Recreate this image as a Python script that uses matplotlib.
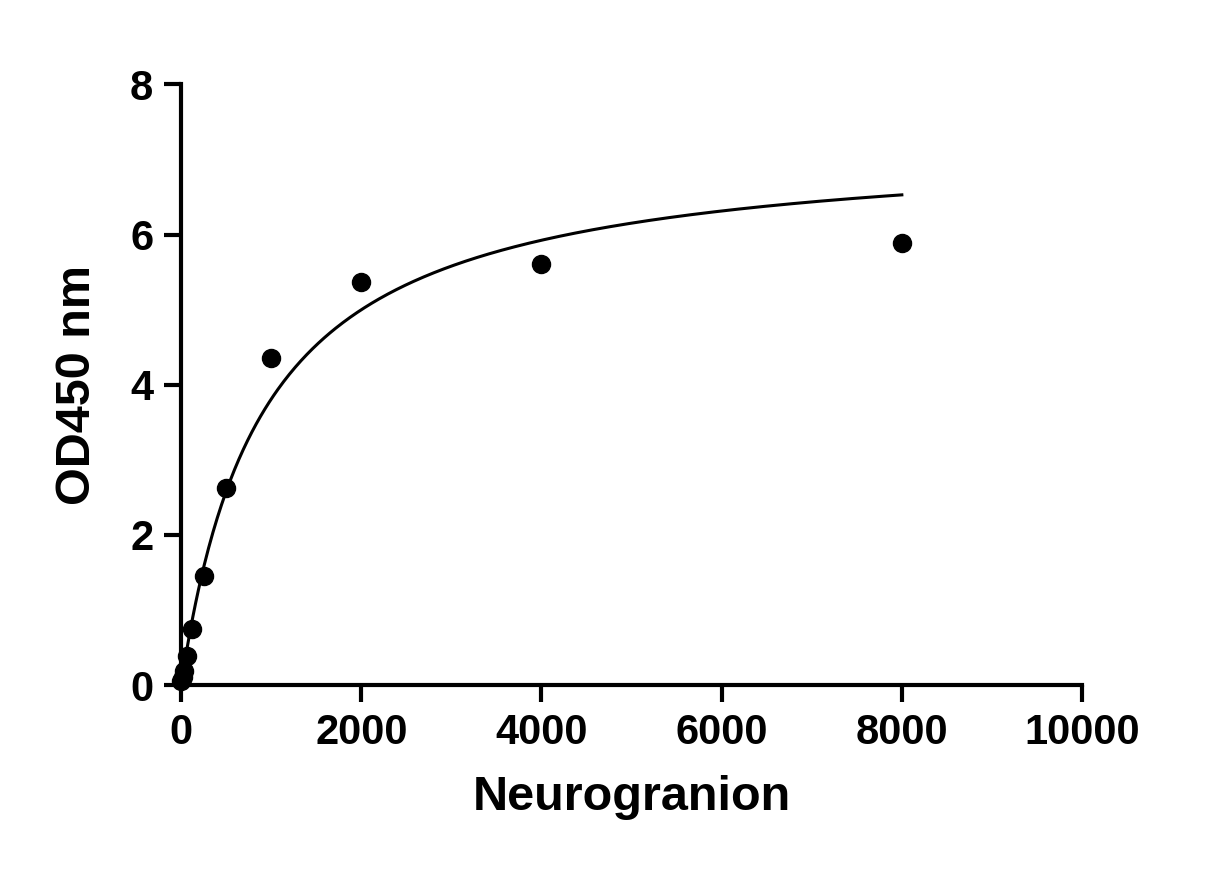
import numpy as np
import matplotlib
matplotlib.use("Agg")
import matplotlib.pyplot as plt

conc = [0, 15.6, 31.25, 62.5, 125, 250, 500, 1000, 2000, 4000, 8000]
od = [0.05, 0.1, 0.18, 0.38, 0.75, 1.45, 2.62, 4.36, 5.37, 5.61, 5.89]
vmax, kd = 7.27, 909.0

plt.rcParams['font.family'] = ['Liberation Sans', 'DejaVu Sans']
plt.rcParams['font.weight'] = 'bold'
fig = plt.figure(figsize=(12.24, 8.88), dpi=100)
ax = fig.add_axes([0.148, 0.2286, 0.736, 0.6764])
xs = np.linspace(0, max(conc), 500)
ax.plot(xs, vmax * xs / (kd + xs), color='black', lw=2.2)
ax.plot(conc, od, 'o', color='black', ms=13, clip_on=False, zorder=3)
ax.set_xlim(0, 10000)
ax.set_ylim(0, 8)
ax.set_xticks([0, 2000, 4000, 6000, 8000, 10000])
ax.set_yticks([0, 2, 4, 6, 8])
for s in ['top', 'right']:
    ax.spines[s].set_visible(False)
for s in ['left', 'bottom']:
    ax.spines[s].set_linewidth(3)
ax.tick_params(width=3, length=12, labelsize=30, pad=8)
for t in ax.get_xticklabels() + ax.get_yticklabels():
    t.set_fontweight('bold')
ax.set_xlabel('Neurogranion', fontsize=35, fontweight='bold', labelpad=16)
ax.set_ylabel('OD450 nm', fontsize=35, fontweight='bold', labelpad=22)
fig.savefig('out.png', dpi=100)
